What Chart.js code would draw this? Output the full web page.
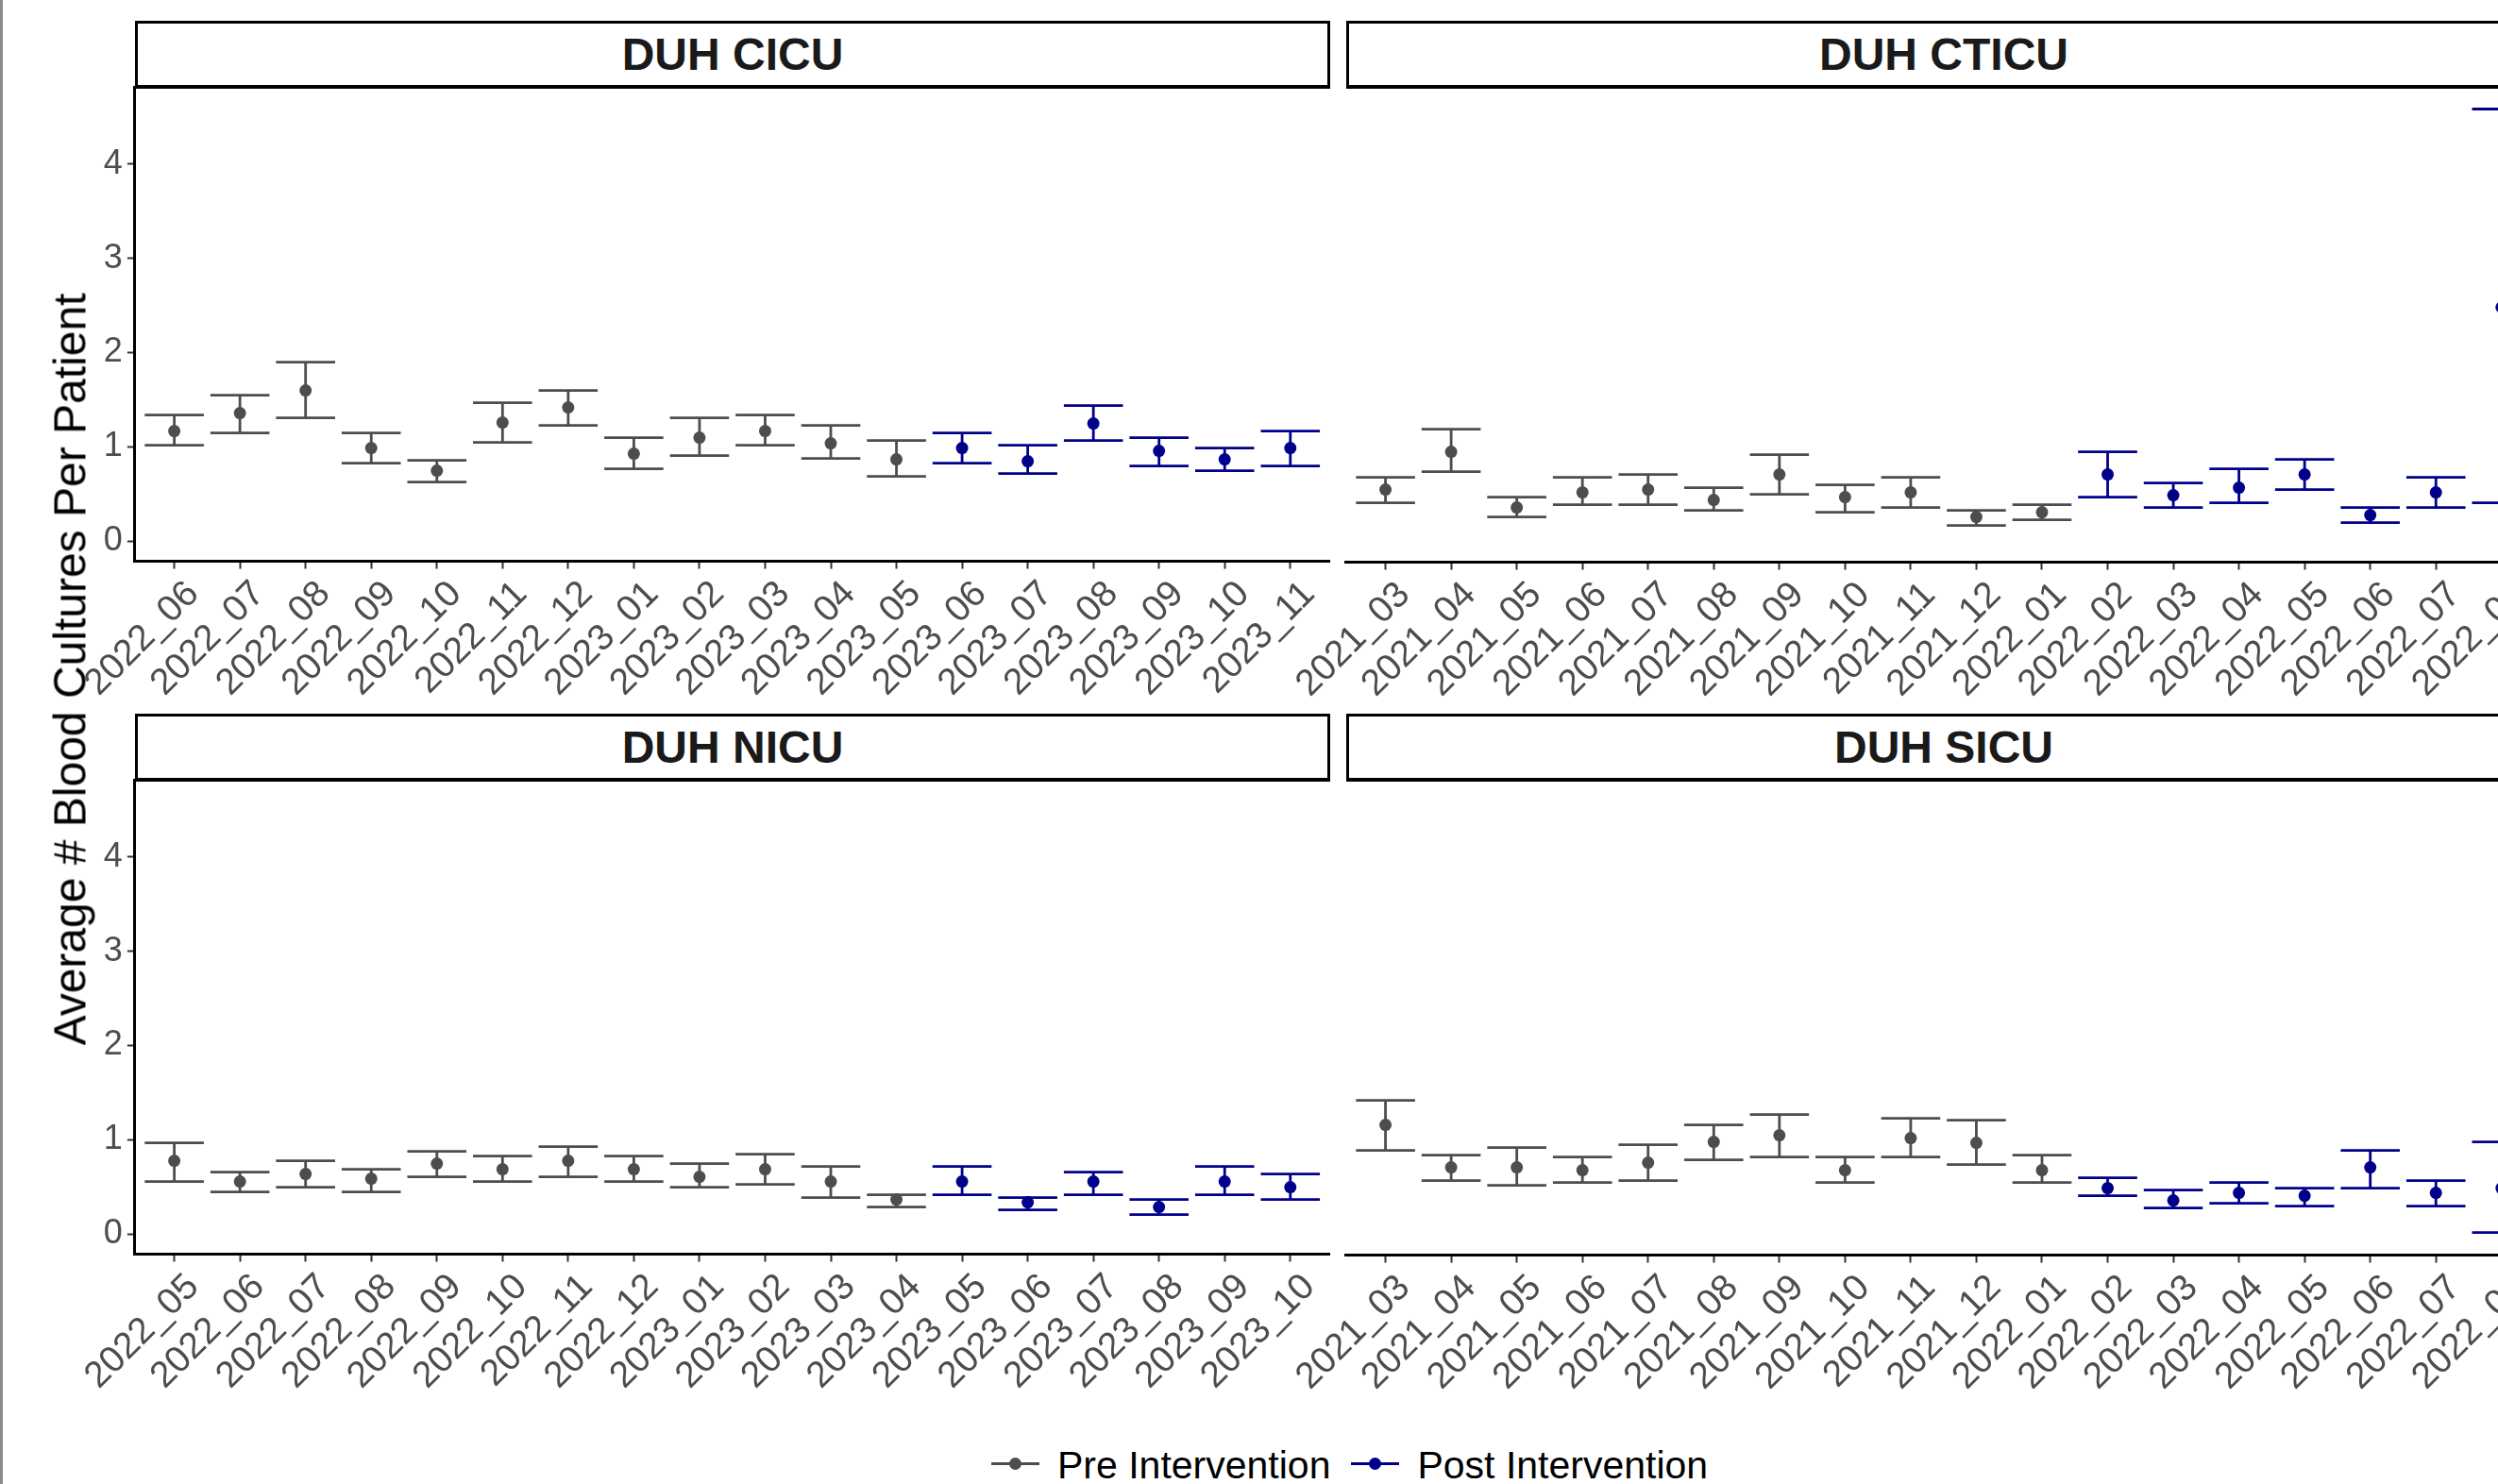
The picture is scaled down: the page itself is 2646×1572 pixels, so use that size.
<!DOCTYPE html>
<html>
<head>
<meta charset="utf-8">
<script src="https://cdn.jsdelivr.net/npm/chart.js@4.4.1/dist/chart.umd.min.js"></script>
<style>
  html, body { margin: 0; padding: 0; background: #fff; }
  body { width: 2646px; height: 1572px; overflow: hidden; position: relative; font-family: "Liberation Sans", Arial, sans-serif; }
  .frame { position: absolute; left: 0; top: 0; width: 3px; height: 1572px; background: #8c8c8c; }
  .strip { position: absolute; box-sizing: border-box; height: 72px; border: 3px solid #000; border-bottom-width: 4px; background: #fff;
           font-weight: bold; font-size: 48px; line-height: 66px; text-align: center; color: #1a1a1a; }
  .panel { position: absolute; }
  .ytitle { position: absolute; left: 74px; top: 709px; transform: translate(-50%, -50%) rotate(-90deg); white-space: nowrap;
            font-size: 48px; color: #000; }
  .legend { position: absolute; left: 1050px; top: 1531px; font-size: 41px; line-height: 42px; white-space: nowrap; color: #000; }
  .key { display: inline-block; position: relative; width: 51px; height: 42px; vertical-align: top; margin-right: 19px; }
  .key i { position: absolute; left: 0; top: 18px; width: 51px; height: 3px; }
  .key b { position: absolute; left: 19px; top: 13px; width: 13px; height: 13px; border-radius: 50%; }
</style>
</head>
<body>
<div class="frame"></div>

<div class="panel" id="wrap-cicu"><canvas id="cicu" width="1400" height="660"></canvas></div>
<div class="panel" id="wrap-cticu"><canvas id="cticu" width="1400" height="660"></canvas></div>
<div class="panel" id="wrap-nicu"><canvas id="nicu" width="1400" height="660"></canvas></div>
<div class="panel" id="wrap-sicu"><canvas id="sicu" width="1400" height="660"></canvas></div>

<div class="strip" style="left:143px;top:22px;width:1266px;">DUH CICU</div>
<div class="strip" style="left:1426px;top:22px;width:1266px;">DUH CTICU</div>
<div class="strip" style="left:143px;top:756px;width:1266px;">DUH NICU</div>
<div class="strip" style="left:1426px;top:756px;width:1266px;">DUH SICU</div>

<div class="ytitle">Average # Blood Cultures Per Patient</div>

<div class="legend">
  <span class="key"><i style="background:#4D4D4D"></i><b style="background:#4D4D4D"></b></span>Pre Intervention<span style="display:inline-block;width:22px"></span><span class="key"><i style="background:#00008B"></i><b style="background:#00008B"></b></span>Post Intervention
</div>

<script>
// data
const yTicks = [0, 1, 2, 3, 4];

const cicuMonths = ["2022_06", "2022_07", "2022_08", "2022_09", "2022_10", "2022_11", "2022_12", "2023_01", "2023_02",
  "2023_03", "2023_04", "2023_05", "2023_06", "2023_07", "2023_08", "2023_09", "2023_10", "2023_11"];
const cicuMean = [1.17, 1.36, 1.60, 0.99, 0.75, 1.26, 1.42, 0.93, 1.10, 1.17, 1.04, 0.87, 0.99, 0.85, 1.25, 0.96, 0.87, 0.99];
const cicuLower = [1.02, 1.15, 1.31, 0.83, 0.63, 1.05, 1.23, 0.77, 0.91, 1.02, 0.88, 0.69, 0.83, 0.72, 1.07, 0.80, 0.75, 0.80];
const cicuUpper = [1.34, 1.55, 1.90, 1.15, 0.86, 1.47, 1.60, 1.10, 1.31, 1.34, 1.23, 1.07, 1.15, 1.02, 1.44, 1.10, 0.99, 1.17];
const cicuFirstPost = 12;

const cticuMonths = ["2021_03", "2021_04", "2021_05", "2021_06", "2021_07", "2021_08", "2021_09", "2021_10", "2021_11",
  "2021_12", "2022_01", "2022_02", "2022_03", "2022_04", "2022_05", "2022_06", "2022_07", "2022_08"];
const cticuMean = [0.56, 0.96, 0.37, 0.53, 0.56, 0.45, 0.72, 0.48, 0.53, 0.27, 0.32, 0.72, 0.50, 0.58, 0.72, 0.29, 0.53, 2.49];
const cticuLower = [0.42, 0.75, 0.27, 0.40, 0.40, 0.34, 0.51, 0.32, 0.37, 0.18, 0.24, 0.48, 0.37, 0.42, 0.56, 0.21, 0.37, 0.42];
const cticuUpper = [0.69, 1.20, 0.48, 0.69, 0.72, 0.58, 0.93, 0.61, 0.69, 0.34, 0.40, 0.96, 0.63, 0.78, 0.88, 0.37, 0.69, 4.59];
const cticuFirstPost = 11;

const nicuMonths = ["2022_05", "2022_06", "2022_07", "2022_08", "2022_09", "2022_10", "2022_11", "2022_12", "2023_01",
  "2023_02", "2023_03", "2023_04", "2023_05", "2023_06", "2023_07", "2023_08", "2023_09", "2023_10"];
const nicuMean = [0.78, 0.56, 0.64, 0.59, 0.75, 0.69, 0.78, 0.69, 0.61, 0.69, 0.56, 0.37, 0.56, 0.34, 0.56, 0.29, 0.56, 0.50];
const nicuLower = [0.56, 0.45, 0.50, 0.45, 0.61, 0.56, 0.61, 0.56, 0.50, 0.53, 0.39, 0.29, 0.42, 0.26, 0.42, 0.21, 0.42, 0.37];
const nicuUpper = [0.97, 0.66, 0.78, 0.69, 0.88, 0.83, 0.93, 0.83, 0.75, 0.85, 0.72, 0.42, 0.72, 0.39, 0.66, 0.37, 0.72, 0.64];
const nicuFirstPost = 12;

const sicuMonths = ["2021_03", "2021_04", "2021_05", "2021_06", "2021_07", "2021_08", "2021_09", "2021_10", "2021_11",
  "2021_12", "2022_01", "2022_02", "2022_03", "2022_04", "2022_05", "2022_06", "2022_07", "2022_08"];
const sicuMean = [1.17, 0.72, 0.72, 0.69, 0.77, 0.99, 1.06, 0.69, 1.03, 0.98, 0.69, 0.50, 0.37, 0.45, 0.42, 0.72, 0.45, 0.50];
const sicuLower = [0.90, 0.58, 0.53, 0.56, 0.58, 0.80, 0.83, 0.56, 0.83, 0.75, 0.56, 0.42, 0.29, 0.34, 0.31, 0.50, 0.31, 0.03];
const sicuUpper = [1.43, 0.85, 0.93, 0.83, 0.96, 1.17, 1.28, 0.83, 1.24, 1.22, 0.85, 0.61, 0.48, 0.56, 0.50, 0.90, 0.58, 0.99];
const sicuFirstPost = 11;

const preColor = "#4D4D4D";
const postColor = "#00008B";
const capWidth = 0.9; // errorbar width in category units, like ggplot

// errorbars drawn under the points
const errorBars = {
  id: "errorBars",
  beforeDatasetsDraw(chart) {
    const ctx = chart.ctx;
    const x = chart.scales.x;
    const y = chart.scales.y;
    chart.data.datasets.forEach((ds) => {
      ctx.save();
      ctx.strokeStyle = ds.borderColor;
      ctx.lineWidth = 2.8;
      ds.data.forEach((p) => {
        const px = x.getPixelForValue(p.x);
        const half = x.getPixelForValue(p.x + capWidth / 2) - px;
        const yLo = y.getPixelForValue(p.lo);
        const yHi = y.getPixelForValue(p.hi);
        ctx.beginPath();
        ctx.moveTo(px, yLo);
        ctx.lineTo(px, yHi);
        ctx.moveTo(px - half, yLo);
        ctx.lineTo(px + half, yLo);
        ctx.moveTo(px - half, yHi);
        ctx.lineTo(px + half, yHi);
        ctx.stroke();
      });
      ctx.restore();
    });
  },
};

function makePanel(id, months, mean, lower, upper, firstPost, showY) {
  const pre = [];
  const post = [];
  months.forEach((m, i) => {
    const p = { x: i, y: mean[i], lo: lower[i], hi: upper[i] };
    if (i < firstPost) pre.push(p);
    else post.push(p);
  });

  const font = "'Liberation Sans', Arial, sans-serif";

  return new Chart(document.getElementById(id), {
    type: "scatter",
    data: {
      datasets: [
        { label: "Pre Intervention", data: pre, borderColor: preColor, backgroundColor: preColor, pointRadius: 6.5, pointBorderWidth: 0 },
        { label: "Post Intervention", data: post, borderColor: postColor, backgroundColor: postColor, pointRadius: 6.5, pointBorderWidth: 0 },
      ],
    },
    options: {
      responsive: false,
      maintainAspectRatio: false,
      animation: false,
      layout: { padding: 0 },
      plugins: { legend: { display: false }, title: { display: false }, tooltip: { enabled: false } },
      scales: {
        x: {
          type: "linear",
          min: -0.6,
          max: months.length - 1 + 0.6,
          afterBuildTicks: (s) => { s.ticks = months.map((m, i) => ({ value: i })); },
          ticks: {
            autoSkip: false,
            minRotation: 45,
            maxRotation: 45,
            padding: 4,
            labelOffset: 20,
            color: preColor,
            font: { family: font, size: 39 },
            callback: (v) => months[v],
          },
          grid: { drawOnChartArea: false, drawTicks: true, tickLength: 8, tickColor: "#333", tickWidth: 2 },
          border: { display: true, color: "#000", width: 3 },
        },
        y: {
          type: "linear",
          display: showY,
          min: -0.21,
          max: 4.81,
          afterBuildTicks: (s) => { s.ticks = yTicks.map((v) => ({ value: v })); },
          ticks: { color: preColor, font: { family: font, size: 36 }, padding: 5 },
          grid: { drawOnChartArea: false, drawTicks: true, tickLength: 8, tickColor: "#333", tickWidth: 2 },
          border: { display: true, color: "#000", width: 3 },
        },
      },
    },
    plugins: [errorBars],
  });
}

// resize each canvas until its plot area has the panel size, then move it into place
function place(chart, wrapId, box) {
  for (let k = 0; k < 5; k++) {
    const ca = chart.chartArea;
    const w = Math.round(chart.width + box.w - (ca.right - ca.left));
    const h = Math.round(chart.height + box.h - (ca.bottom - ca.top));
    if (w === chart.width && h === chart.height) break;
    chart.resize(w, h);
  }
  const ca = chart.chartArea;
  const wrap = document.getElementById(wrapId);
  wrap.style.left = (box.x - ca.left) + "px";
  wrap.style.top = (box.y - ca.top) + "px";
}

const cicuChart = makePanel("cicu", cicuMonths, cicuMean, cicuLower, cicuUpper, cicuFirstPost, true);
const cticuChart = makePanel("cticu", cticuMonths, cticuMean, cticuLower, cticuUpper, cticuFirstPost, false);
const nicuChart = makePanel("nicu", nicuMonths, nicuMean, nicuLower, nicuUpper, nicuFirstPost, true);
const sicuChart = makePanel("sicu", sicuMonths, sicuMean, sicuLower, sicuUpper, sicuFirstPost, false);

place(cicuChart, "wrap-cicu", { x: 143, y: 93, w: 1266, h: 502 });
place(cticuChart, "wrap-cticu", { x: 1426, y: 93, w: 1266, h: 502 });
place(nicuChart, "wrap-nicu", { x: 143, y: 827, w: 1266, h: 502 });
place(sicuChart, "wrap-sicu", { x: 1426, y: 827, w: 1266, h: 502 });
</script>
</body>
</html>
